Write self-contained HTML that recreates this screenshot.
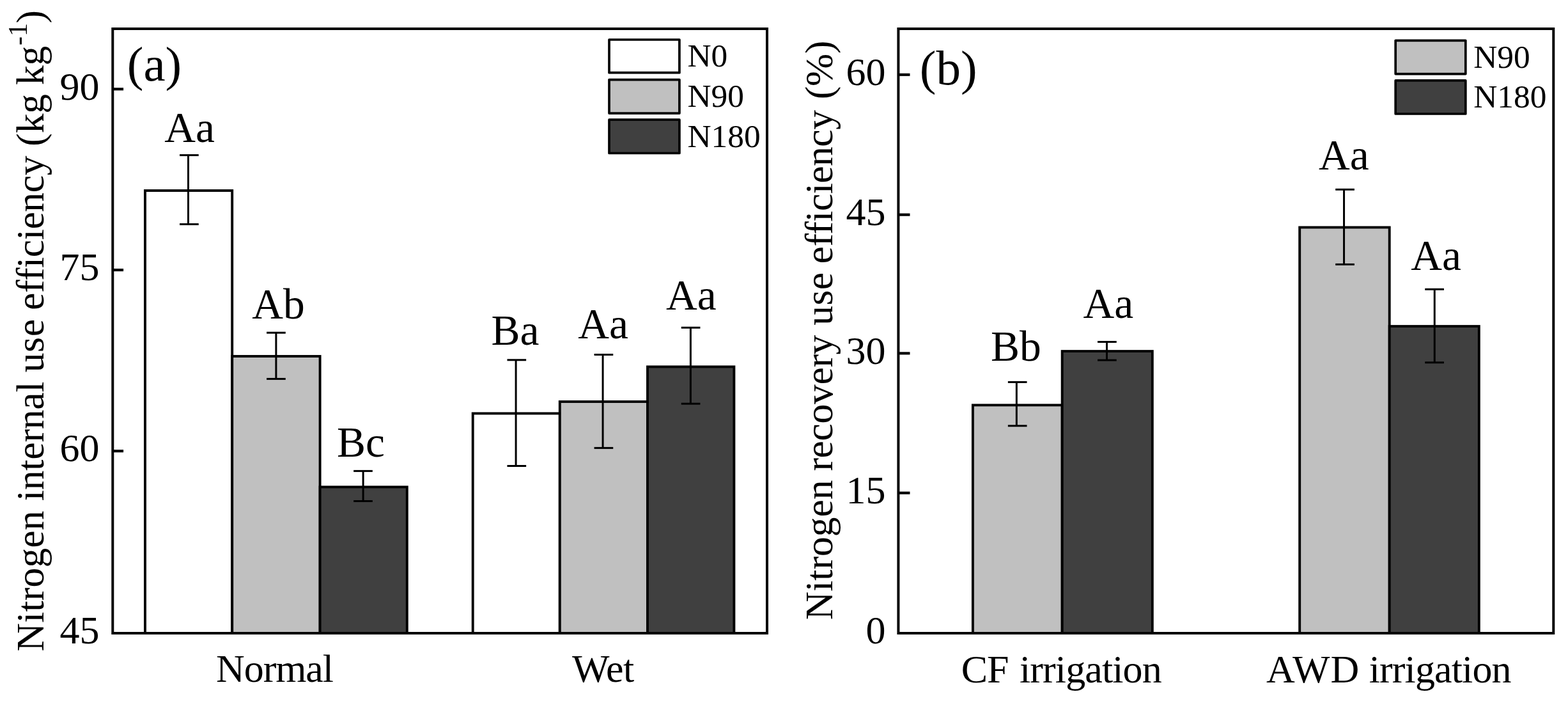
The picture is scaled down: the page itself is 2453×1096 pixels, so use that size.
<!DOCTYPE html>
<html><head><meta charset="utf-8"><title>Nitrogen use efficiency</title>
<style>html,body{margin:0;padding:0;background:#fff;}svg{display:block;}</style>
</head><body>
<svg width="2453" height="1096" viewBox="0 0 2453 1096" font-family="'Liberation Serif', 'Times New Roman', serif" fill="#000">
<rect width="2453" height="1096" fill="#fff"/>
<rect x="227.00" y="298.00" width="136.20" height="692.00" fill="#fff" stroke="#000" stroke-width="3.9" stroke-linejoin="miter"/>
<rect x="363.20" y="557.00" width="137.40" height="433.00" fill="#c0c0c0" stroke="#000" stroke-width="3.9" stroke-linejoin="miter"/>
<rect x="500.60" y="761.40" width="136.20" height="228.60" fill="#404040" stroke="#000" stroke-width="3.9" stroke-linejoin="miter"/>
<rect x="739.70" y="646.40" width="136.10" height="343.60" fill="#fff" stroke="#000" stroke-width="3.9" stroke-linejoin="miter"/>
<rect x="875.80" y="628.00" width="137.20" height="362.00" fill="#c0c0c0" stroke="#000" stroke-width="3.9" stroke-linejoin="miter"/>
<rect x="1013.00" y="573.40" width="135.40" height="416.60" fill="#404040" stroke="#000" stroke-width="3.9" stroke-linejoin="miter"/>
<line x1="294.50" y1="242.60" x2="294.50" y2="350.60" stroke="#000" stroke-width="3.0"/>
<line x1="281.05" y1="242.60" x2="310.75" y2="242.60" stroke="#000" stroke-width="3.0"/>
<line x1="281.05" y1="350.60" x2="310.75" y2="350.60" stroke="#000" stroke-width="3.0"/>
<line x1="431.90" y1="520.20" x2="431.90" y2="592.40" stroke="#000" stroke-width="3.0"/>
<line x1="417.10" y1="520.20" x2="446.80" y2="520.20" stroke="#000" stroke-width="3.0"/>
<line x1="417.10" y1="592.40" x2="446.80" y2="592.40" stroke="#000" stroke-width="3.0"/>
<line x1="568.10" y1="736.40" x2="568.10" y2="783.50" stroke="#000" stroke-width="3.0"/>
<line x1="553.15" y1="736.40" x2="582.85" y2="736.40" stroke="#000" stroke-width="3.0"/>
<line x1="553.15" y1="783.50" x2="582.85" y2="783.50" stroke="#000" stroke-width="3.0"/>
<line x1="807.10" y1="562.80" x2="807.10" y2="728.50" stroke="#000" stroke-width="3.0"/>
<line x1="793.45" y1="562.80" x2="823.15" y2="562.80" stroke="#000" stroke-width="3.0"/>
<line x1="793.45" y1="728.50" x2="823.15" y2="728.50" stroke="#000" stroke-width="3.0"/>
<line x1="943.07" y1="554.50" x2="943.07" y2="700.40" stroke="#000" stroke-width="3.0"/>
<line x1="929.55" y1="554.50" x2="959.25" y2="554.50" stroke="#000" stroke-width="3.0"/>
<line x1="929.55" y1="700.40" x2="959.25" y2="700.40" stroke="#000" stroke-width="3.0"/>
<line x1="1080.40" y1="512.25" x2="1080.40" y2="631.20" stroke="#000" stroke-width="3.0"/>
<line x1="1065.75" y1="512.25" x2="1095.45" y2="512.25" stroke="#000" stroke-width="3.0"/>
<line x1="1065.75" y1="631.20" x2="1095.45" y2="631.20" stroke="#000" stroke-width="3.0"/>
<rect x="1521.90" y="633.40" width="139.80" height="356.60" fill="#c0c0c0" stroke="#000" stroke-width="3.9" stroke-linejoin="miter"/>
<rect x="1661.70" y="549.10" width="141.10" height="440.90" fill="#404040" stroke="#000" stroke-width="3.9" stroke-linejoin="miter"/>
<rect x="2033.20" y="355.50" width="140.50" height="634.50" fill="#c0c0c0" stroke="#000" stroke-width="3.9" stroke-linejoin="miter"/>
<rect x="2173.70" y="510.10" width="140.10" height="479.90" fill="#404040" stroke="#000" stroke-width="3.9" stroke-linejoin="miter"/>
<line x1="1590.35" y1="597.40" x2="1590.35" y2="665.80" stroke="#000" stroke-width="3.0"/>
<line x1="1576.85" y1="597.40" x2="1606.55" y2="597.40" stroke="#000" stroke-width="3.0"/>
<line x1="1576.85" y1="665.80" x2="1606.55" y2="665.80" stroke="#000" stroke-width="3.0"/>
<line x1="1731.50" y1="534.50" x2="1731.50" y2="563.10" stroke="#000" stroke-width="3.0"/>
<line x1="1717.05" y1="534.50" x2="1746.75" y2="534.50" stroke="#000" stroke-width="3.0"/>
<line x1="1717.05" y1="563.10" x2="1746.75" y2="563.10" stroke="#000" stroke-width="3.0"/>
<line x1="2102.55" y1="296.30" x2="2102.55" y2="413.40" stroke="#000" stroke-width="3.0"/>
<line x1="2089.20" y1="296.30" x2="2118.90" y2="296.30" stroke="#000" stroke-width="3.0"/>
<line x1="2089.20" y1="413.40" x2="2118.90" y2="413.40" stroke="#000" stroke-width="3.0"/>
<line x1="2244.25" y1="452.30" x2="2244.25" y2="566.80" stroke="#000" stroke-width="3.0"/>
<line x1="2229.25" y1="452.30" x2="2258.95" y2="452.30" stroke="#000" stroke-width="3.0"/>
<line x1="2229.25" y1="566.80" x2="2258.95" y2="566.80" stroke="#000" stroke-width="3.0"/>
<rect x="176.3" y="45.0" width="1023.70" height="945.0" fill="none" stroke="#000" stroke-width="4.0" stroke-linejoin="miter"/>
<rect x="1405.4" y="45.0" width="1024.90" height="945.0" fill="none" stroke="#000" stroke-width="4.0" stroke-linejoin="miter"/>
<line x1="176.30" y1="139.3" x2="193.10" y2="139.3" stroke="#000" stroke-width="4.2"/>
<text x="155.50" y="155.50" font-size="62" text-anchor="end" >90</text>
<line x1="176.30" y1="422.1" x2="193.10" y2="422.1" stroke="#000" stroke-width="4.2"/>
<text x="155.50" y="438.30" font-size="62" text-anchor="end" >75</text>
<line x1="176.30" y1="705.2" x2="193.10" y2="705.2" stroke="#000" stroke-width="4.2"/>
<text x="155.50" y="721.40" font-size="62" text-anchor="end" >60</text>
<text x="155.50" y="1006.20" font-size="62" text-anchor="end" >45</text>
<line x1="1405.40" y1="116.8" x2="1423.50" y2="116.8" stroke="#000" stroke-width="4.2"/>
<text x="1385.50" y="133.00" font-size="62" text-anchor="end" >60</text>
<line x1="1405.40" y1="335.7" x2="1423.50" y2="335.7" stroke="#000" stroke-width="4.2"/>
<text x="1385.50" y="351.90" font-size="62" text-anchor="end" >45</text>
<line x1="1405.40" y1="552.4" x2="1423.50" y2="552.4" stroke="#000" stroke-width="4.2"/>
<text x="1385.50" y="568.60" font-size="62" text-anchor="end" >30</text>
<line x1="1405.40" y1="770.7" x2="1423.50" y2="770.7" stroke="#000" stroke-width="4.2"/>
<text x="1385.50" y="786.90" font-size="62" text-anchor="end" >15</text>
<text x="1385.50" y="1006.20" font-size="62" text-anchor="end" >0</text>
<text x="296.50" y="221.70" font-size="67.5" text-anchor="middle" >Aa</text>
<text x="435.40" y="497.90" font-size="67.5" text-anchor="middle" >Ab</text>
<text x="564.40" y="713.90" font-size="67.5" text-anchor="middle" >Bc</text>
<text x="806.00" y="539.10" font-size="67.5" text-anchor="middle" >Ba</text>
<text x="943.70" y="528.60" font-size="67.5" text-anchor="middle" >Aa</text>
<text x="1081.40" y="483.70" font-size="67.5" text-anchor="middle" >Aa</text>
<text x="1589.30" y="564.20" font-size="67.5" text-anchor="middle" >Bb</text>
<text x="1733.80" y="497.30" font-size="67.5" text-anchor="middle" >Aa</text>
<text x="2102.40" y="264.50" font-size="67.5" text-anchor="middle" >Aa</text>
<text x="2246.50" y="421.80" font-size="67.5" text-anchor="middle" >Aa</text>
<text transform="translate(0,1066.0)" font-size="62" ><tspan x="338.10" textLength="183.92" lengthAdjust="spacing">Normal</tspan></text>
<text transform="translate(0,1066.0)" font-size="62" ><tspan x="894.94" textLength="97.40" lengthAdjust="spacing">Wet</tspan></text>
<text transform="translate(0,1067.0)" font-size="62" ><tspan x="1503.86" textLength="74.68" lengthAdjust="spacing">CF</tspan> <tspan x="1595.00" textLength="222.64" lengthAdjust="spacing">irrigation</tspan></text>
<text transform="translate(0,1067.0)" font-size="62" ><tspan x="1981.08" textLength="145.21" lengthAdjust="spacing">AWD</tspan> <tspan x="2141.70" textLength="222.84" lengthAdjust="spacing">irrigation</tspan></text>
<text transform="translate(68.3,1100.0) rotate(-90)" font-size="61.5"><tspan x="81.62" textLength="219.99" lengthAdjust="spacing">Nitrogen</tspan> <tspan x="316.71" textLength="186.93" lengthAdjust="spacing">internal</tspan> <tspan x="517.70" textLength="83.25" lengthAdjust="spacing">use</tspan> <tspan x="615.00" textLength="241.44" lengthAdjust="spacing">efficiency</tspan> <tspan x="871.39" textLength="81.58" lengthAdjust="spacing">(kg</tspan> <tspan x="967.03" textLength="61.14" lengthAdjust="spacing">kg</tspan><tspan x="1029.10" font-size="42" dy="-25.9">-1</tspan><tspan x="1063.40" dy="25.9">)</tspan></text>
<text transform="translate(1302.1,1100.0) rotate(-90)" font-size="61.5" ><tspan x="130.72" textLength="218.79" lengthAdjust="spacing">Nitrogen</tspan> <tspan x="363.47" textLength="212.85" lengthAdjust="spacing">recovery</tspan> <tspan x="591.30" textLength="82.85" lengthAdjust="spacing">use</tspan> <tspan x="687.60" textLength="240.34" lengthAdjust="spacing">efficiency</tspan> <tspan x="944.69" textLength="91.91" lengthAdjust="spacing">(%)</tspan></text>
<text x="198.80" y="126.00" font-size="77" text-anchor="start" >(a)</text>
<text x="1438.80" y="132.00" font-size="77" text-anchor="start" >(b)</text>
<rect x="953.0" y="62.0" width="109.90" height="51.70" fill="#fff" stroke="#000" stroke-width="3.7" stroke-linejoin="round"/>
<text x="1075.40" y="104.20" font-size="51.4" text-anchor="start" >N0</text>
<rect x="953.0" y="124.6" width="109.90" height="52.50" fill="#c0c0c0" stroke="#000" stroke-width="3.7" stroke-linejoin="round"/>
<text x="1075.40" y="166.80" font-size="51.4" text-anchor="start" >N90</text>
<rect x="953.0" y="187.2" width="109.90" height="52.30" fill="#404040" stroke="#000" stroke-width="3.7" stroke-linejoin="round"/>
<text x="1075.40" y="229.80" font-size="51.4" text-anchor="start" >N180</text>
<rect x="2183.2" y="63.3" width="109.60" height="52.30" fill="#c0c0c0" stroke="#000" stroke-width="3.7" stroke-linejoin="round"/>
<text x="2305.20" y="105.80" font-size="51.4" text-anchor="start" >N90</text>
<rect x="2183.2" y="125.9" width="109.60" height="52.10" fill="#404040" stroke="#000" stroke-width="3.7" stroke-linejoin="round"/>
<text x="2305.20" y="168.00" font-size="51.4" text-anchor="start" >N180</text>
</svg>
</body></html>
